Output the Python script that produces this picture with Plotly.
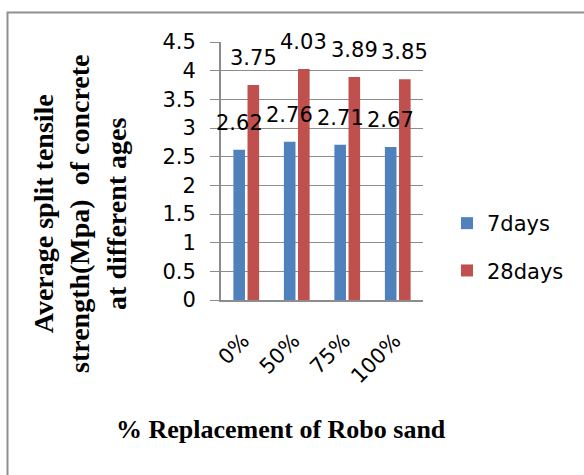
import plotly.graph_objects as go

# Split tensile strength results
categories = ["0%", "50%", "75%", "100%"]
strength_7days = [2.62, 2.76, 2.71, 2.67]
strength_28days = [3.75, 4.03, 3.89, 3.85]
series_names = ["7days", "28days"]
y_ticks = [0, 0.5, 1, 1.5, 2, 2.5, 3, 3.5, 4, 4.5]

colors = ["#4F81BD", "#C0504D"]
label_font = dict(family="DejaVu Sans", size=21, color="#000000")
serif = "Liberation Serif, Times New Roman, serif"

fig = go.Figure()
for name, vals, col in zip(series_names, [strength_7days, strength_28days], colors):
    fig.add_trace(go.Bar(
        x=categories, y=vals, name=name, legendgroup=name,
        marker=dict(color=col, line=dict(width=0)),
    ))

# value labels above each bar
for vals, shift in zip([strength_7days, strength_28days], [-7, 7]):
    for c, v in zip(categories, vals):
        fig.add_annotation(
            x=c, y=v, text=f"{v:.2f}", showarrow=False,
            xref="x", yref="y", xanchor="center", yanchor="bottom",
            xshift=shift, yshift=13, font=label_font,
        )

# axis titles
fig.add_annotation(
    text="<b>Average split tensile<br>strength(Mpa)\u00a0 of concrete<br>at different ages</b>",
    xref="paper", yref="paper", x=(80 - 221) / 202, y=(300 - 214) / 258,
    xanchor="center", yanchor="middle", textangle=-90, showarrow=False,
    font=dict(family=serif, size=28, color="#000000"),
)
fig.add_annotation(
    text="<b>% Replacement of Robo sand</b>",
    xref="paper", yref="paper", x=(281 - 221) / 202, y=(300 - 429) / 258,
    xanchor="center", yanchor="middle", showarrow=False,
    font=dict(family=serif, size=26, color="#000000"),
)

# outer frame
fig.add_shape(
    type="rect", xref="paper", yref="paper",
    x0=(7.5 - 221) / 202, x1=(620 - 221) / 202,
    y0=(300 - 500) / 258, y1=(300 - 12.5) / 258,
    line=dict(color="#8f8f8f", width=2), fillcolor="rgba(0,0,0,0)", layer="below",
)

fig.update_layout(
    width=584, height=475,
    margin=dict(l=221, r=161, t=42, b=175, autoexpand=False),
    paper_bgcolor="white", plot_bgcolor="white",
    barmode="group", bargap=0.44, bargroupgap=0.18,
    showlegend=True,
    legend=dict(
        x=(447 - 221) / 202, y=(300 - 203) / 258, xanchor="left", yanchor="top",
        font=label_font, tracegroupgap=17, bgcolor="rgba(0,0,0,0)",
    ),
    font=label_font,
)
fig.update_yaxes(
    range=[0, 4.5], tickvals=y_ticks, ticktext=[f"{t:g}" for t in y_ticks],
    showgrid=True, gridcolor="#8c8c8c", gridwidth=1.3,
    showline=True, linecolor="#8c8c8c", linewidth=2,
    ticks="outside", ticklen=9, tickcolor="#8c8c8c", tickwidth=1.3,
    tickfont=label_font, zeroline=False, ticklabelstandoff=10, automargin=False,
)
fig.update_xaxes(
    range=[-0.5, len(categories) - 0.5],
    showline=True, linecolor="#8c8c8c", linewidth=2,
    ticks="", tickangle=-45, tickfont=label_font,
    ticklabelstandoff=18, ticklabelshift=-3, automargin=False,
)

fig.write_html("out.html")
